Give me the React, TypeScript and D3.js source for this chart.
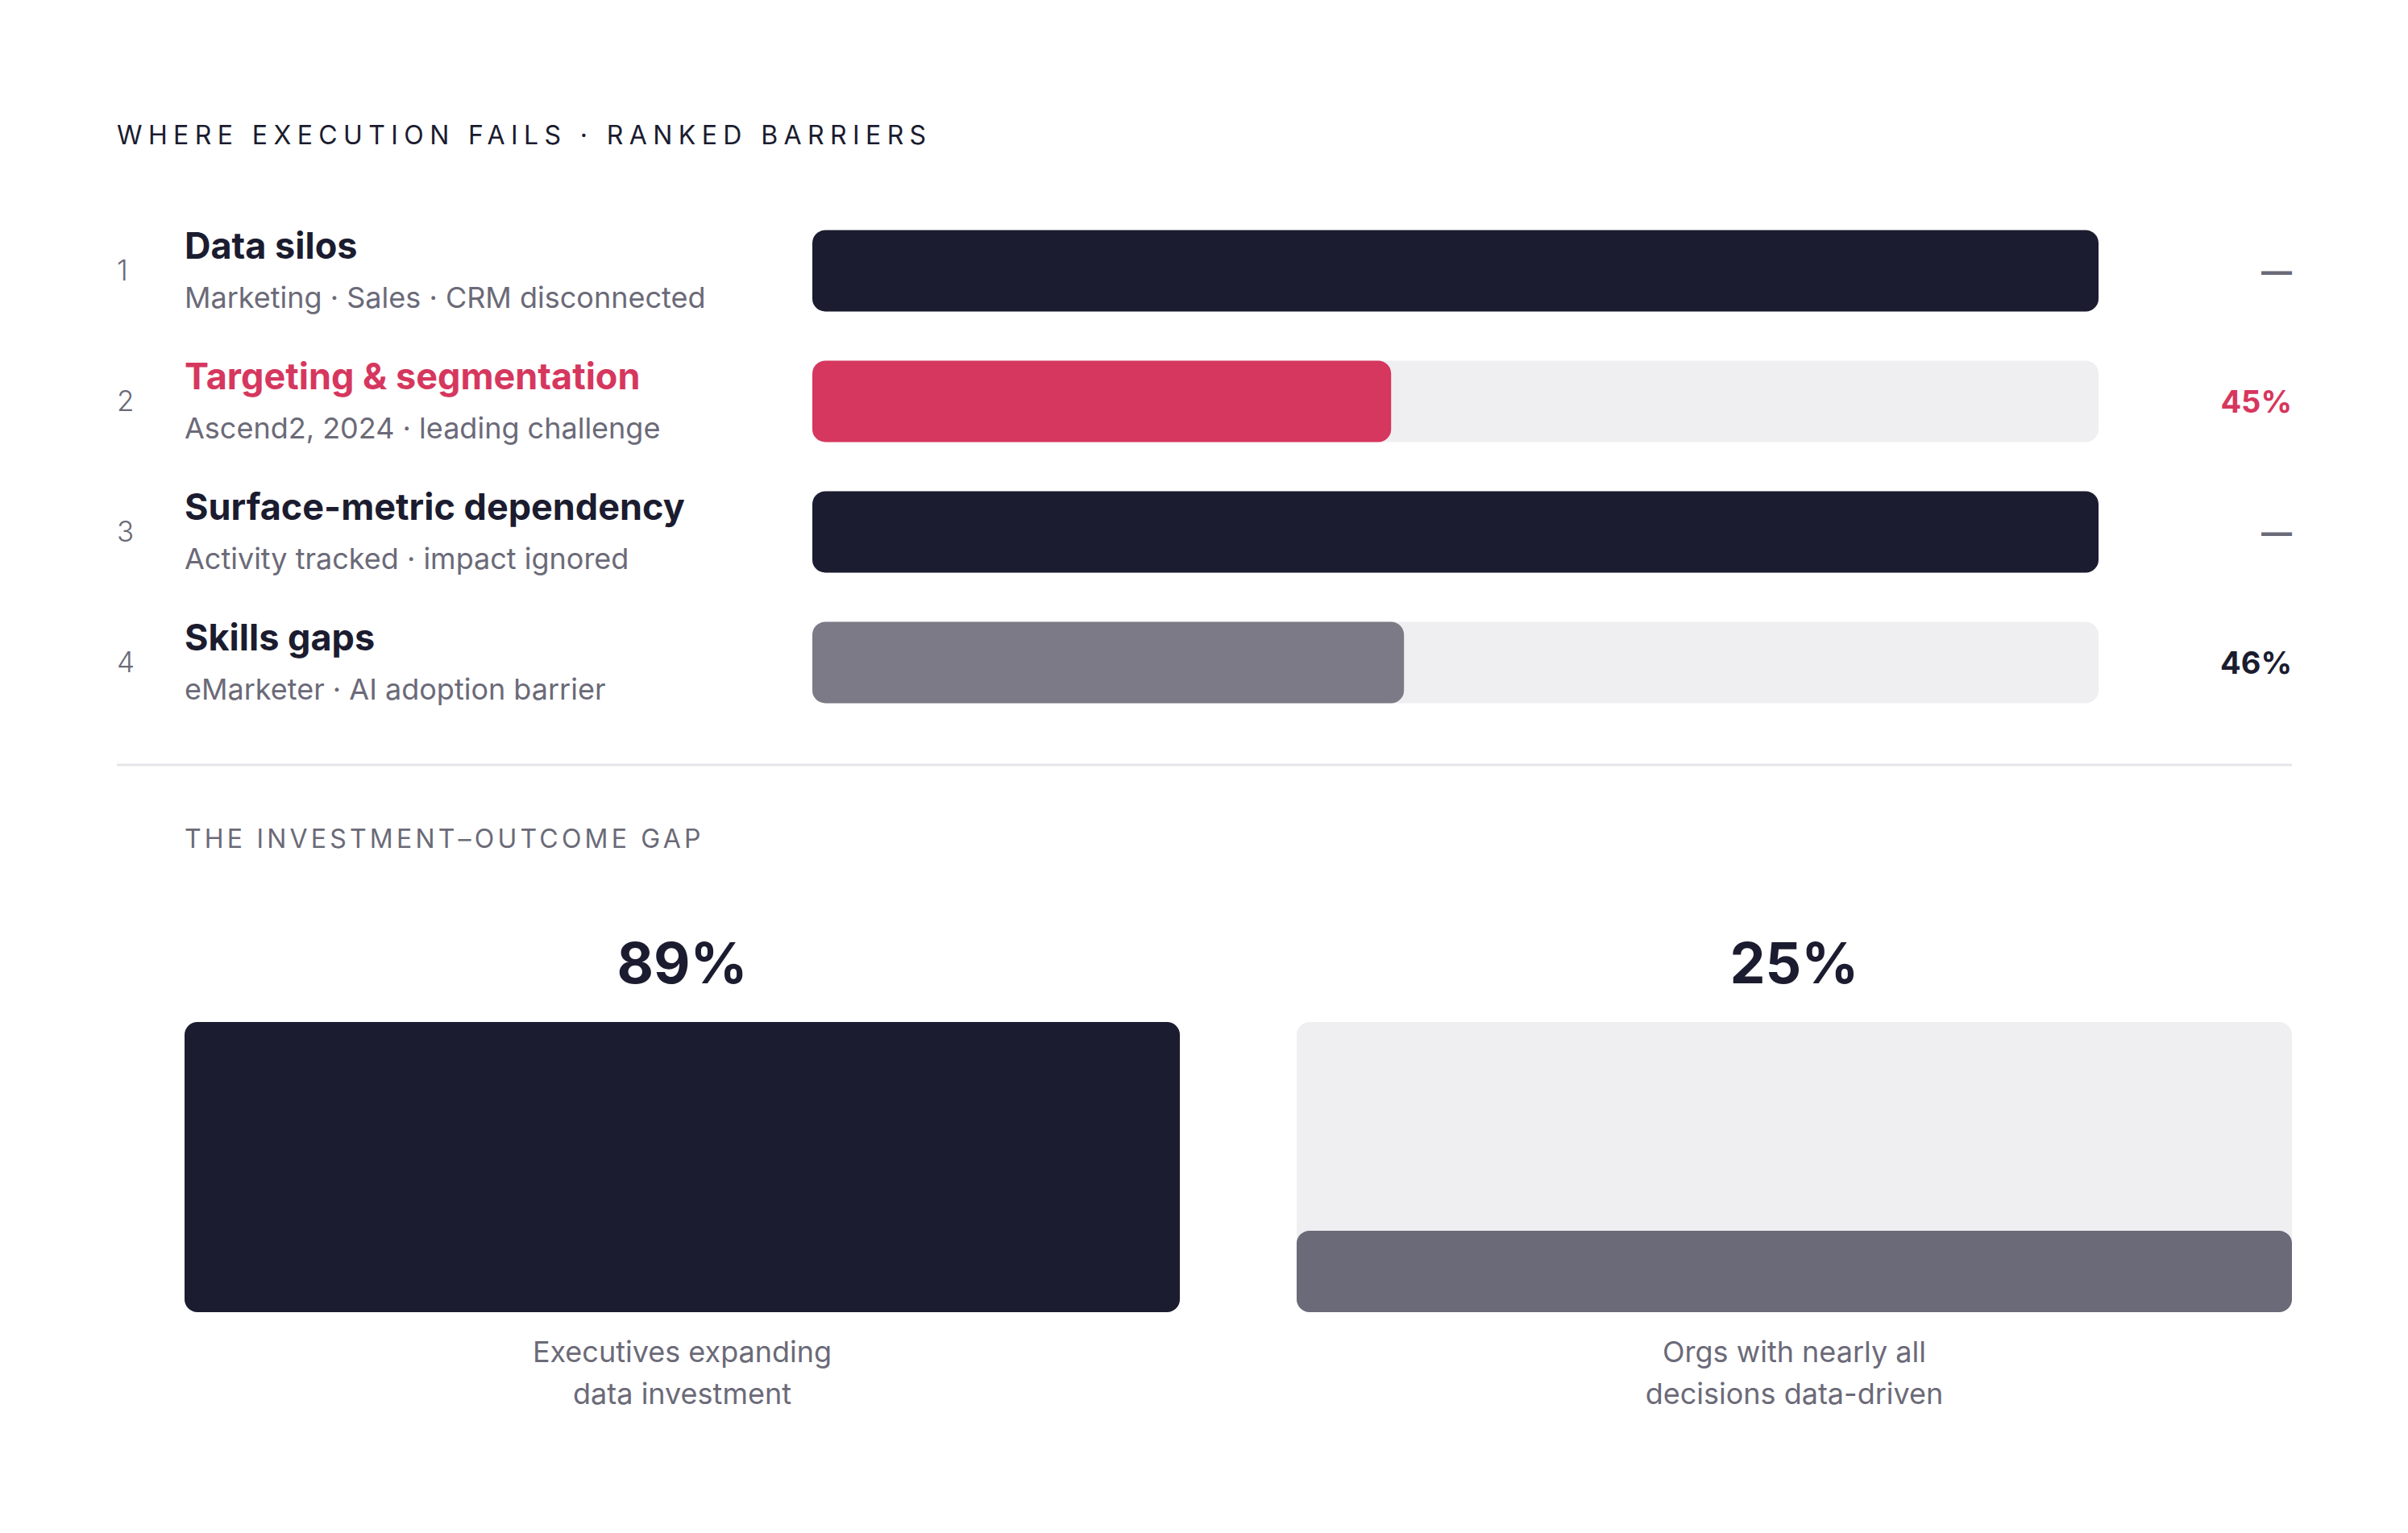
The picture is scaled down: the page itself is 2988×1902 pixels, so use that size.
import React from 'react'
import { scaleBand, scaleLinear } from 'd3'

// ranked barriers
const barrierRanks = [1, 2, 3, 4]
const barrierLabels = ['Data silos', 'Targeting & segmentation', 'Surface-metric dependency', 'Skills gaps']
const barrierNotes = [
  'Marketing · Sales · CRM disconnected',
  'Ascend2, 2024 · leading challenge',
  'Activity tracked · impact ignored',
  'eMarketer · AI adoption barrier',
]
// null = no figure reported (drawn as full bar with a dash)
const barrierValues: (number | null)[] = [null, 45, null, 46]

// investment–outcome gap
const gapValues = [89, 25]
const gapCaptions = [
  ['Executives expanding', 'data investment'],
  ['Orgs with nearly all', 'decisions data-driven'],
]

const W = 2988
const H = 1902
const FONT = 'Inter, "DM Sans", "Noto Sans", sans-serif'
const INK = '#1b1c2f'
const PINK = '#d6375e'
const MUTED = '#6b6a78'
const TRACK = '#efeff1'
const barColors = [INK, PINK, INK, '#7b7a86']
const valueColors = [MUTED, PINK, MUTED, INK]

export default function App(): JSX.Element {
  const x = scaleLinear().domain([0, 100]).range([1008, 2604])
  const y = scaleBand<number>().domain(barrierRanks).range([255, 903]).paddingInner(0.377).paddingOuter(0.1885)
  const bw = y.bandwidth()

  const gx = scaleBand<number>().domain([0, 1]).range([229, 2844]).paddingInner(0.105)
  const gy = scaleLinear().domain([0, Math.max(...gapValues)]).range([1628, 1268])

  return (
    <svg
      width={W}
      height={H}
      viewBox={`0 0 ${W} ${H}`}
      style={{ position: 'absolute', left: 0, top: 0, background: '#fff' }}
      fontFamily={FONT}
    >
      <rect width={W} height={H} fill="#fff" />
      <text x={145} y={179} fontSize={32} letterSpacing={7.4} fill={INK} fontWeight={400}>
        WHERE EXECUTION FAILS · RANKED BARRIERS
      </text>

      {barrierRanks.map((r, i) => {
        const y0 = y(r) as number
        const cy = y0 + bw / 2
        const v = barrierValues[i]
        return (
          <g key={r}>
            <text x={145} y={cy} dy="0.35em" fontSize={35} fontWeight={300} fill={MUTED}>
              {r}
            </text>
            <text x={229} y={cy - 15} fontSize={45} fontWeight={700} fill={i === 1 ? PINK : INK}>
              {barrierLabels[i]}
            </text>
            <text x={229} y={cy + 46} fontSize={36} fontWeight={400} fill={MUTED}>
              {barrierNotes[i]}
            </text>
            <rect x={x(0)} y={y0} width={x(100) - x(0)} height={bw} rx={16} fill={TRACK} />
            <rect x={x(0)} y={y0} width={x(v ?? 100) - x(0)} height={bw} rx={16} fill={barColors[i]} />
            <text
              x={2844}
              y={cy}
              dy="0.36em"
              textAnchor="end"
              fontSize={38}
              fontWeight={700}
              fill={valueColors[i]}
            >
              {v == null ? '—' : `${v}%`}
            </text>
          </g>
        )
      })}

      <line x1={145} x2={2844} y1={949} y2={949} stroke="#e6e6ea" strokeWidth={3} />

      <text x={229} y={1052} fontSize={32} letterSpacing={4.2} fill={MUTED}>
        THE INVESTMENT–OUTCOME GAP
      </text>

      {gapValues.map((v, i) => {
        const x0 = gx(i) as number
        const w = gx.bandwidth()
        const cx = x0 + w / 2
        return (
          <g key={i}>
            <rect x={x0} y={gy(gy.domain()[1])} width={w} height={gy(0) - gy(gy.domain()[1])} rx={16} fill={TRACK} />
            <rect x={x0} y={gy(v)} width={w} height={gy(0) - gy(v)} rx={16} fill={i === 0 ? INK : MUTED} />
            <text x={cx} y={1220} textAnchor="middle" fontSize={70} fontWeight={700} fill={INK}>
              {v}%
            </text>
            {gapCaptions[i].map((line, j) => (
              <text key={j} x={cx} y={1690 + j * 52} textAnchor="middle" fontSize={36} fill={MUTED}>
                {line}
              </text>
            ))}
          </g>
        )
      })}
    </svg>
  )
}
